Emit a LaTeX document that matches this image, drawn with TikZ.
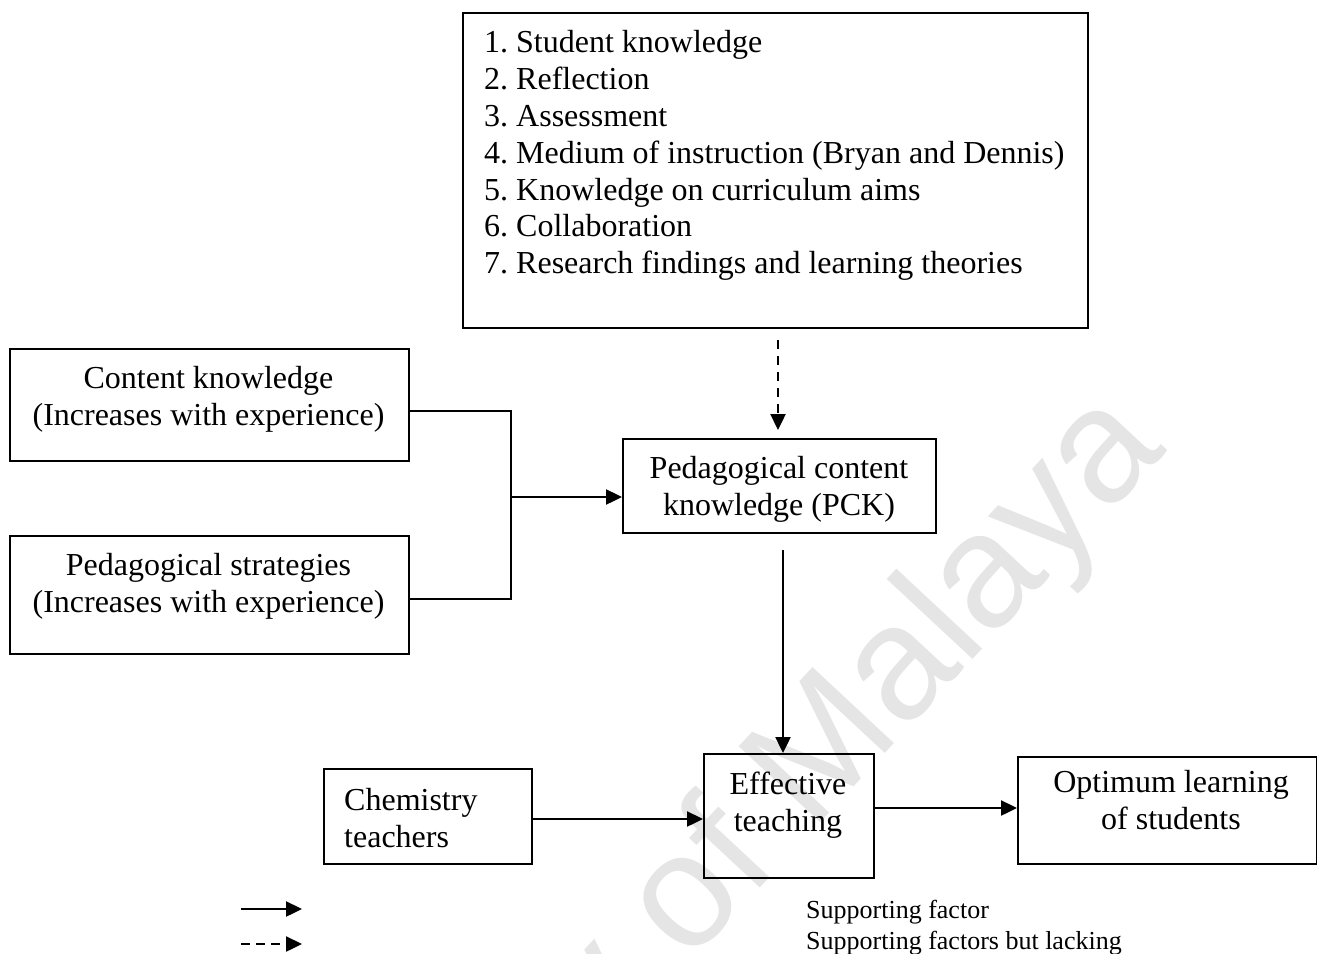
\documentclass[tikz,border=0pt]{standalone}
\usepackage{fontspec}
\setmainfont{Liberation Serif}
\newfontfamily\wmfont{Liberation Sans}
\usetikzlibrary{arrows.meta,calc}
\frenchspacing
\begin{document}
\begin{tikzpicture}[x=1pt,y=-1pt,
  boxstyle/.style={draw, line width=2pt, inner sep=0pt, anchor=north west},
  txt/.style={font=\fontsize{32}{36.8}\selectfont, inner sep=0pt, align=center},
  conn/.style={line width=2.4pt},
  arr/.style={line width=2.4pt, -{Triangle[length=16pt,width=15pt]}},
  darr/.style={arr, dash pattern=on 9pt off 7pt},
  legtxt/.style={font=\fontsize{26}{31}\selectfont, inner sep=0pt, anchor=base west}]
\useasboundingbox (0,0) rectangle (1317,953);
% watermark
\node[rotate=47, anchor=base east, text=black!10, font=\wmfont\fontsize{162}{162}\selectfont, inner sep=0pt] (wm) at (1168,450) {University of Malaya};
% boxes
\node[boxstyle, minimum width=625pt, minimum height=315pt] (factors) at (462,12) {};
\node[txt, align=left, anchor=north west] (factorlist) at (484,27) {\strut 1. Student knowledge\\
\strut 2. Reflection\\
\strut 3. Assessment\\
\strut 4. Medium of instruction (Bryan and Dennis)\\
\strut 5. Knowledge on curriculum aims\\
\strut 6. Collaboration\\
\strut 7. Research findings and learning theories};
\node[boxstyle, minimum width=399pt, minimum height=112pt] (ck) at (9,348) {};
\node[txt] (cktext) at (208.5,400) {\strut Content knowledge\\\strut (Increases with experience)};
\node[boxstyle, minimum width=399pt, minimum height=118pt] (ps) at (9,535) {};
\node[txt] (pstext) at (208.5,587) {\strut Pedagogical strategies\\\strut (Increases with experience)};
\node[boxstyle, minimum width=313pt, minimum height=94pt] (pck) at (622,438) {};
\node[txt] (pcktext) at (779,490) {\strut Pedagogical content\\\strut knowledge (PCK)};
\node[boxstyle, minimum width=170pt, minimum height=124pt] (eff) at (703,753) {};
\node[txt] (efftext) at (788,806) {\strut Effective\\\strut teaching};
\node[boxstyle, minimum width=208pt, minimum height=95pt] (ct) at (323,768) {};
\node[txt, align=left, anchor=west] (cttext) at (344,822) {\strut Chemistry\\\strut teachers};
\node[boxstyle, minimum width=299pt, minimum height=107pt] (opt) at (1017,756) {};
\node[txt] (opttext) at (1171,804) {\strut Optimum learning\\\strut of students};
% connectors
\draw[darr, shorten <=11pt, shorten >=8pt] (factors.south -| 778,0) -- (pck.north -| 778,0);
\coordinate (junc) at (511,497);
\draw[conn] ([yshift=-6pt]ck.east) -| (junc) |- ([yshift=-4pt]ps.east);
\draw[arr] (junc) -- (junc -| pck.west);
\draw[arr, shorten <=16pt] ([xshift=3.5pt]pck.south) -- ([xshift=3.5pt]pck.south |- eff.north);
\draw[arr] ([yshift=-2.5pt]ct.east) -- ([yshift=-2.5pt]ct.east -| eff.west);
\draw[arr] ([yshift=8pt]eff.east) -- ([yshift=8pt]eff.east -| opt.west);
% legend
\coordinate (l1s) at (241,909);
\coordinate (l1e) at (302,909);
\coordinate (l2s) at (241,944);
\coordinate (l2e) at (302,944);
\draw[arr] (l1s) -- (l1e);
\draw[darr, dash pattern=on 9pt off 6pt] (l2s) -- (l2e);
\node[legtxt] (leg1) at (806,918) {Supporting factor};
\node[legtxt] (leg2) at (806,949) {Supporting factors but lacking};
\end{tikzpicture}
\end{document}
